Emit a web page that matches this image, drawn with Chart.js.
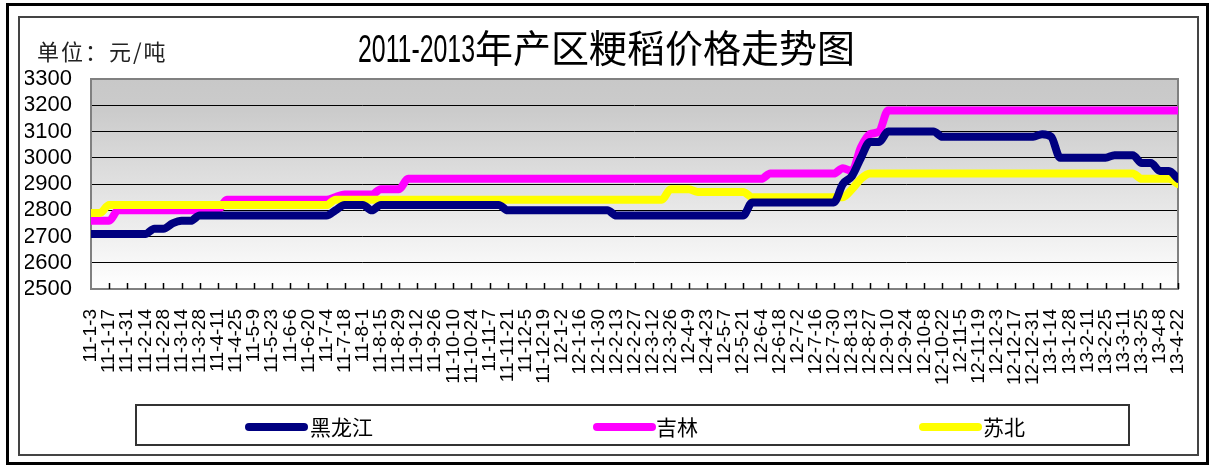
<!DOCTYPE html>
<html>
<head>
<meta charset="utf-8">
<script src="https://cdn.jsdelivr.net/npm/chart.js@4.4.1/dist/chart.umd.min.js"></script>
<style>
  body { margin: 0; width: 1226px; height: 468px; position: relative; overflow: hidden; background: #fff; }
  #chart { position: absolute; left: 0; top: 0; }
  .frame { position: absolute; box-sizing: border-box; pointer-events: none; }
  #outer { left: 6px; top: 3px; width: 1203px; height: 462px; border: 3px solid #000; }
  #inner { left: 18px; top: 16px; width: 1181px; height: 440px; border: 2px solid #444; }
  #unit { position: absolute; left: 37px; top: 34px; font: 22px "Noto Sans CJK SC", sans-serif; color: #222; letter-spacing: 2px; white-space: nowrap; }
  #title { position: absolute; left: 358px; top: 18px; white-space: nowrap; color: #000; line-height: 44px; }
  #tDigits { display: inline-block; font: 38px "Liberation Sans Narrow", "Liberation Sans", sans-serif; transform-origin: left center; }
  #tText { font: 38px "Noto Sans CJK SC", sans-serif; }
  #legend { position: absolute; left: 135px; top: 404px; width: 995px; height: 42px; box-sizing: border-box; border: 2px solid #333; background: #fff; }
  .sw { position: absolute; height: 8px; width: 63px; border-radius: 4px; top: 17px; }
  .lt { position: absolute; top: 6px; font: 21px "Noto Sans CJK SC", sans-serif; color: #000; line-height: 28px; }
</style>
</head>
<body>
<canvas id="chart" width="1226" height="468"></canvas>
<div class="frame" id="outer"></div>
<div class="frame" id="inner"></div>
<div id="unit">单位：元/吨</div>
<div id="title"><span id="tDigits">2011-2013</span><span id="tText">年产区粳稻价格走势图</span></div>
<div id="legend"></div>
<script>
const weeks = [
  '11-1-3','11-1-10','11-1-17','11-1-24','11-1-31','11-2-7','11-2-14','11-2-21','11-2-28','11-3-7',
  '11-3-14','11-3-21','11-3-28','11-4-4','11-4-11','11-4-18','11-4-25','11-5-2','11-5-9','11-5-16',
  '11-5-23','11-5-30','11-6-6','11-6-13','11-6-20','11-6-27','11-7-4','11-7-11','11-7-18','11-7-25',
  '11-8-1','11-8-8','11-8-15','11-8-22','11-8-29','11-9-5','11-9-12','11-9-19','11-9-26','11-10-3',
  '11-10-10','11-10-17','11-10-24','11-10-31','11-11-7','11-11-14','11-11-21','11-11-28','11-12-5','11-12-12',
  '11-12-19','11-12-26','12-1-2','12-1-9','12-1-16','12-1-23','12-1-30','12-2-6','12-2-13','12-2-20',
  '12-2-27','12-3-5','12-3-12','12-3-19','12-3-26','12-4-2','12-4-9','12-4-16','12-4-23','12-4-30',
  '12-5-7','12-5-14','12-5-21','12-5-28','12-6-4','12-6-11','12-6-18','12-6-25','12-7-2','12-7-9',
  '12-7-16','12-7-23','12-7-30','12-8-6','12-8-13','12-8-20','12-8-27','12-9-3','12-9-10','12-9-17',
  '12-9-24','12-10-1','12-10-8','12-10-15','12-10-22','12-10-29','12-11-5','12-11-12','12-11-19','12-11-26',
  '12-12-3','12-12-10','12-12-17','12-12-24','12-12-31','13-1-7','13-1-14','13-1-21','13-1-28','13-2-4',
  '13-2-11','13-2-18','13-2-25','13-3-4','13-3-11','13-3-18','13-3-25','13-4-1','13-4-8','13-4-15',
  '13-4-22'
];

// 黑龙江
const heilongjiang = [
  2710,2710,2710,2710,2710,2710,2710,2730,2730,2750,
  2760,2760,2780,2780,2780,2780,2780,2780,2780,2780,
  2780,2780,2780,2780,2780,2780,2780,2800,2820,2820,
  2820,2800,2820,2820,2820,2820,2820,2820,2820,2820,
  2820,2820,2820,2820,2820,2820,2800,2800,2800,2800,
  2800,2800,2800,2800,2800,2800,2800,2800,2780,2780,
  2780,2780,2780,2780,2780,2780,2780,2780,2780,2780,
  2780,2780,2780,2830,2830,2830,2830,2830,2830,2830,
  2830,2830,2830,2900,2930,3000,3060,3060,3100,3100,
  3100,3100,3100,3100,3080,3080,3080,3080,3080,3080,
  3080,3080,3080,3080,3080,3090,3080,3000,3000,3000,
  3000,3000,3000,3010,3010,3010,2980,2980,2950,2950,
  2920
];

// 吉林
const jilin = [
  2760,2760,2760,2800,2800,2800,2800,2800,2800,2800,
  2800,2800,2800,2800,2800,2840,2840,2840,2840,2840,
  2840,2840,2840,2840,2840,2840,2840,2850,2860,2860,
  2860,2860,2880,2880,2880,2920,2920,2920,2920,2920,
  2920,2920,2920,2920,2920,2920,2920,2920,2920,2920,
  2920,2920,2920,2920,2920,2920,2920,2920,2920,2920,
  2920,2920,2920,2920,2920,2920,2920,2920,2920,2920,
  2920,2920,2920,2920,2920,2940,2940,2940,2940,2940,
  2940,2940,2940,2960,2950,3040,3090,3100,3180,3180,
  3180,3180,3180,3180,3180,3180,3180,3180,3180,3180,
  3180,3180,3180,3180,3180,3180,3180,3180,3180,3180,
  3180,3180,3180,3180,3180,3180,3180,3180,3180,3180,
  3180
];

// 苏北
const subei = [
  2790,2790,2820,2820,2820,2820,2820,2820,2820,2820,
  2820,2820,2820,2820,2820,2820,2820,2820,2820,2820,
  2820,2820,2820,2820,2820,2820,2820,2840,2840,2840,
  2840,2840,2840,2840,2840,2840,2840,2840,2840,2840,
  2840,2840,2840,2840,2840,2840,2840,2840,2840,2840,
  2840,2840,2840,2840,2840,2840,2840,2840,2840,2840,
  2840,2840,2840,2840,2880,2880,2880,2870,2870,2870,
  2870,2870,2870,2850,2850,2850,2850,2850,2850,2850,
  2850,2850,2850,2850,2880,2920,2940,2940,2940,2940,
  2940,2940,2940,2940,2940,2940,2940,2940,2940,2940,
  2940,2940,2940,2940,2940,2940,2940,2940,2940,2940,
  2940,2940,2940,2940,2940,2940,2920,2920,2920,2920,
  2900
];

const seriesNames = ['黑龙江', '吉林', '苏北'];
const seriesColors = ['#000080', '#ff00ff', '#ffff00'];

// squeeze the narrow title digits like the original
const digits = document.getElementById('tDigits');
const dw = digits.getBoundingClientRect().width;
digits.style.transform = 'scaleX(' + (117 / dw) + ')';
digits.style.marginRight = (117 - dw) + 'px';

// legend box
const legend = document.getElementById('legend');
const legendPos = [[108, 173], [456, 519], [782, 846]];
seriesNames.forEach((name, i) => {
  const sw = document.createElement('div');
  sw.className = 'sw';
  sw.style.left = legendPos[i][0] + 'px';
  sw.style.background = seriesColors[i];
  legend.appendChild(sw);
  const t = document.createElement('div');
  t.className = 'lt';
  t.style.left = legendPos[i][1] + 'px';
  t.textContent = name;
  legend.appendChild(t);
});

const plotFrame = {
  id: 'plotFrame',
  beforeDraw(chart) {
    const { ctx, chartArea: a } = chart;
    const g = ctx.createLinearGradient(0, a.top, 0, a.bottom);
    g.addColorStop(0, '#c8c8c8');
    g.addColorStop(0.15, '#cbcbcb');
    g.addColorStop(1, '#ffffff');
    ctx.save();
    ctx.fillStyle = g;
    ctx.fillRect(a.left, a.top, a.right - a.left, a.bottom - a.top);
    ctx.restore();
  },
  beforeDatasetsDraw(chart) {
    const { ctx, chartArea: a, scales } = chart;
    ctx.save();
    ctx.strokeStyle = '#808080';
    ctx.lineWidth = 2;
    ctx.strokeRect(a.left, a.top, a.right - a.left, a.bottom - a.top);
    ctx.strokeStyle = '#000';
    ctx.lineWidth = 1.5;
    ctx.beginPath();
    for (let i = 2; i < weeks.length; i += 2) {
      const x = Math.round(scales.x.getPixelForValue(i)) + 0.5;
      ctx.moveTo(x, a.bottom);
      ctx.lineTo(x, a.bottom - 6);
    }
    ctx.stroke();
    ctx.restore();
  }
};

const lineStyle = {
  borderWidth: 8,
  borderJoinStyle: 'round',
  borderCapStyle: 'round',
  cubicInterpolationMode: 'monotone',
  pointRadius: 0,
  clip: 0,
  fill: false
};

new Chart(document.getElementById('chart').getContext('2d'), {
  type: 'line',
  data: {
    labels: weeks,
    datasets: [
      { ...lineStyle, label: seriesNames[0], data: heilongjiang, borderColor: seriesColors[0], order: 0 },
      { ...lineStyle, label: seriesNames[1], data: jilin, borderColor: seriesColors[1], order: 2 },
      { ...lineStyle, label: seriesNames[2], data: subei, borderColor: seriesColors[2], order: 1 }
    ]
  },
  options: {
    responsive: false,
    animation: false,
    layout: { padding: { left: 25, top: 79, right: 48, bottom: 0 } },
    plugins: {
      legend: { display: false },
      tooltip: { enabled: false }
    },
    scales: {
      x: {
        grid: { display: false, drawTicks: false },
        border: { display: false },
        ticks: {
          autoSkip: false,
          minRotation: 90,
          maxRotation: 90,
          padding: 20,
          color: '#000',
          font: { family: '"Liberation Sans", Arial, sans-serif', size: 19 },
          callback: (v, i) => (i % 2 === 0 ? weeks[i] : null)
        },
        afterFit: (s) => { s.height = 179; }
      },
      y: {
        min: 2500,
        max: 3300,
        ticks: {
          stepSize: 100,
          autoSkip: false,
          padding: 19,
          color: '#000',
          font: { family: '"Liberation Sans", Arial, sans-serif', size: 22 },
          callback: (v) => String(v)
        },
        grid: { color: '#000', lineWidth: 1, drawTicks: false },
        border: { display: false },
        afterFit: (s) => { s.width = 66; }
      }
    }
  },
  plugins: [plotFrame]
});
</script>
</body>
</html>
